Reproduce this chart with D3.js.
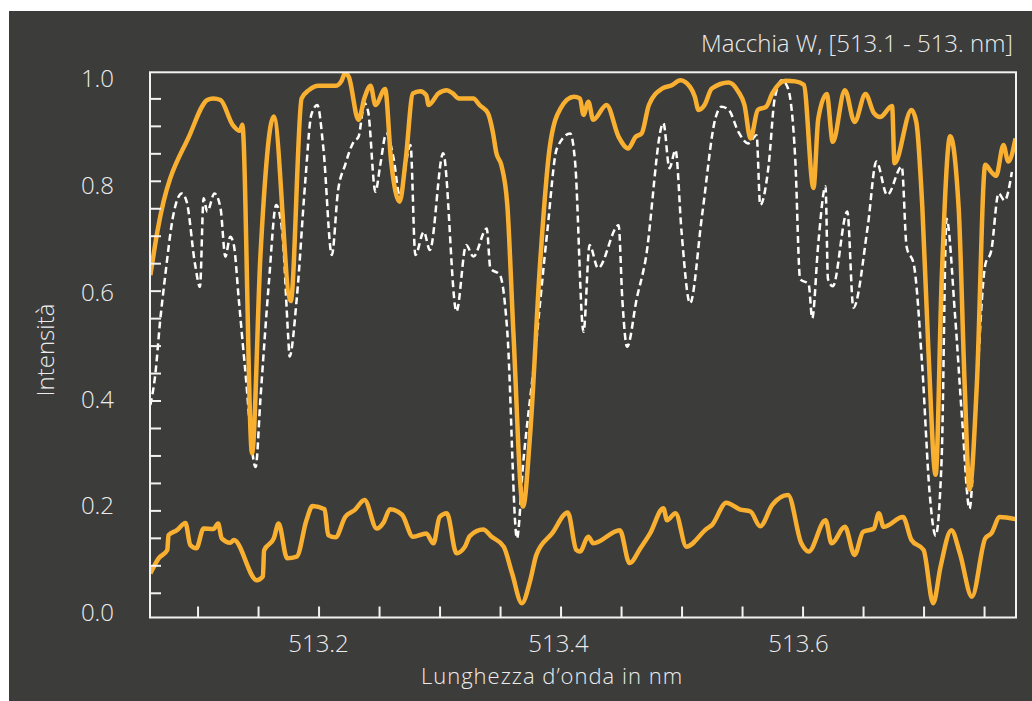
<!DOCTYPE html>
<html>
<head>
<meta charset="utf-8">
<script src="https://cdn.jsdelivr.net/npm/d3@7"></script>
<style>
  html, body { margin: 0; padding: 0; background: #ffffff; }
  svg { display: block; }
  .lbl { font-family: 'Open Sans', Lato, sans-serif; font-weight: 300; fill: #ececec; }
</style>
</head>
<body>
<div id="chart"></div>
<script>
// orange, upper spectrum
const topWave = [513.061, 513.067, 513.094, 513.108, 513.113, 513.119, 513.129, 513.135, 513.137, 513.145,
  513.152, 513.163, 513.177, 513.186, 513.192, 513.200, 513.214, 513.219, 513.222, 513.225,
  513.233, 513.238, 513.243, 513.247, 513.255, 513.260, 513.267, 513.272, 513.278, 513.284,
  513.289, 513.291, 513.299, 513.306, 513.311, 513.316, 513.328, 513.333, 513.340, 513.344,
  513.347, 513.351, 513.356, 513.361, 513.369, 513.375, 513.383, 513.391, 513.400, 513.411,
  513.416, 513.419, 513.423, 513.427, 513.438, 513.448, 513.456, 513.462, 513.467, 513.473,
  513.484, 513.492, 513.499, 513.507, 513.511, 513.514, 513.519, 513.525, 513.539, 513.547,
  513.552, 513.557, 513.563, 513.570, 513.575, 513.586, 513.594, 513.601, 513.609, 513.613,
  513.620, 513.625, 513.635, 513.643, 513.652, 513.659, 513.664, 513.674, 513.676, 513.690,
  513.694, 513.699, 513.704, 513.710, 513.715, 513.722, 513.729, 513.734, 513.738, 513.744,
  513.751, 513.756, 513.760, 513.766, 513.770, 513.776];
const topOrange = [0.628, 0.710, 0.886, 0.947, 0.950, 0.947, 0.902, 0.891, 0.902, 0.304,
  0.665, 0.917, 0.581, 0.950, 0.965, 0.973, 0.973, 0.982, 0.996, 0.989,
  0.911, 0.951, 0.973, 0.938, 0.967, 0.835, 0.762, 0.838, 0.959, 0.963,
  0.956, 0.938, 0.959, 0.965, 0.959, 0.950, 0.950, 0.938, 0.923, 0.889,
  0.850, 0.829, 0.756, 0.525, 0.207, 0.343, 0.647, 0.860, 0.932, 0.953,
  0.950, 0.920, 0.944, 0.911, 0.938, 0.880, 0.859, 0.880, 0.886, 0.938,
  0.968, 0.974, 0.983, 0.971, 0.953, 0.929, 0.938, 0.968, 0.979, 0.962,
  0.938, 0.877, 0.929, 0.935, 0.959, 0.982, 0.981, 0.975, 0.787, 0.913,
  0.958, 0.871, 0.965, 0.907, 0.958, 0.923, 0.916, 0.936, 0.832, 0.929,
  0.907, 0.751, 0.492, 0.265, 0.621, 0.881, 0.751, 0.427, 0.238, 0.427,
  0.829, 0.816, 0.809, 0.865, 0.835, 0.877];

// white dashed spectrum
const dashWave = [513.061, 513.065, 513.069, 513.073, 513.080, 513.087, 513.091, 513.098, 513.102, 513.105,
  513.108, 513.114, 513.119, 513.123, 513.127, 513.130, 513.134, 513.139, 513.148, 513.152,
  513.159, 513.165, 513.170, 513.175, 513.176, 513.182, 513.189, 513.194, 513.199, 513.204,
  513.211, 513.216, 513.222, 513.229, 513.233, 513.238, 513.241, 513.247, 513.251, 513.256,
  513.262, 513.267, 513.276, 513.280, 513.287, 513.292, 513.303, 513.314, 513.322, 513.328,
  513.339, 513.342, 513.350, 513.356, 513.364, 513.369, 513.378, 513.389, 513.397, 513.408,
  513.412, 513.419, 513.424, 513.431, 513.448, 513.451, 513.455, 513.463, 513.470, 513.485,
  513.490, 513.495, 513.500, 513.507, 513.517, 513.528, 513.533, 513.539, 513.547, 513.555,
  513.562, 513.565, 513.572, 513.577, 513.583, 513.588, 513.594, 513.598, 513.605, 513.608,
  513.613, 513.619, 513.621, 513.625, 513.637, 513.642, 513.654, 513.661, 513.670, 513.682,
  513.686, 513.692, 513.699, 513.705, 513.710, 513.715, 513.719, 513.726, 513.732, 513.738,
  513.744, 513.751, 513.756, 513.762, 513.767, 513.773];
const dashWhite = [0.392, 0.446, 0.543, 0.622, 0.738, 0.777, 0.762, 0.647, 0.607, 0.768,
  0.744, 0.777, 0.750, 0.662, 0.698, 0.683, 0.586, 0.465, 0.279, 0.404,
  0.616, 0.756, 0.707, 0.513, 0.480, 0.586, 0.798, 0.920, 0.938, 0.859,
  0.665, 0.780, 0.829, 0.871, 0.880, 0.941, 0.926, 0.780, 0.829, 0.886,
  0.841, 0.774, 0.865, 0.665, 0.707, 0.674, 0.850, 0.562, 0.683, 0.662,
  0.713, 0.641, 0.628, 0.525, 0.149, 0.283, 0.465, 0.707, 0.859, 0.886,
  0.835, 0.525, 0.683, 0.641, 0.719, 0.586, 0.498, 0.586, 0.653, 0.905,
  0.823, 0.856, 0.707, 0.577, 0.738, 0.914, 0.935, 0.929, 0.889, 0.868,
  0.883, 0.756, 0.829, 0.950, 0.983, 0.968, 0.838, 0.621, 0.612, 0.550,
  0.686, 0.790, 0.621, 0.608, 0.744, 0.569, 0.719, 0.835, 0.774, 0.826,
  0.680, 0.647, 0.459, 0.232, 0.154, 0.297, 0.731, 0.556, 0.362, 0.203,
  0.427, 0.647, 0.673, 0.777, 0.764, 0.816];

// orange, lower curve
const lowWave = [513.061, 513.068, 513.075, 513.076, 513.083, 513.090, 513.094, 513.099, 513.105, 513.113,
  513.117, 513.120, 513.127, 513.130, 513.149, 513.154, 513.155, 513.163, 513.167, 513.174,
  513.182, 513.190, 513.195, 513.205, 513.208, 513.214, 513.222, 513.230, 513.238, 513.248,
  513.254, 513.259, 513.269, 513.278, 513.289, 513.295, 513.300, 513.306, 513.314, 513.321,
  513.325, 513.336, 513.343, 513.353, 513.360, 513.368, 513.375, 513.380, 513.393, 513.406,
  513.413, 513.416, 513.423, 513.427, 513.449, 513.457, 513.466, 513.474, 513.485, 513.488,
  513.495, 513.504, 513.521, 513.525, 513.537, 513.548, 513.557, 513.565, 513.575, 513.588,
  513.599, 513.605, 513.619, 513.624, 513.635, 513.643, 513.650, 513.659, 513.663, 513.667,
  513.683, 513.690, 513.700, 513.708, 513.714, 513.723, 513.730, 513.740, 513.751, 513.756,
  513.763, 513.776];
const lowOrange = [0.085, 0.113, 0.128, 0.155, 0.164, 0.177, 0.137, 0.131, 0.167, 0.166,
  0.176, 0.149, 0.141, 0.146, 0.073, 0.080, 0.127, 0.149, 0.176, 0.113,
  0.116, 0.182, 0.208, 0.202, 0.155, 0.151, 0.188, 0.201, 0.219, 0.167,
  0.179, 0.202, 0.192, 0.152, 0.158, 0.140, 0.188, 0.195, 0.122, 0.134,
  0.153, 0.165, 0.152, 0.134, 0.085, 0.031, 0.073, 0.119, 0.158, 0.196,
  0.128, 0.125, 0.152, 0.140, 0.164, 0.104, 0.131, 0.158, 0.204, 0.182,
  0.195, 0.134, 0.167, 0.173, 0.214, 0.202, 0.198, 0.171, 0.210, 0.228,
  0.140, 0.125, 0.182, 0.140, 0.170, 0.119, 0.161, 0.167, 0.195, 0.170,
  0.188, 0.146, 0.128, 0.031, 0.097, 0.164, 0.122, 0.043, 0.149, 0.158,
  0.188, 0.184];

const xMinorTicks = d3.range(0, 14).map(i => +(513.1 + i * 0.05).toFixed(2));
const xTickLabels = [513.2, 513.4, 513.6];
const yMinorTicks = d3.range(1, 20).map(i => +(i * 0.05).toFixed(2));
const yTickLabels = [0.0, 0.2, 0.4, 0.6, 0.8, 1.0];

const titleText = 'Macchia W, [513.1 - 513. nm]';
const xTitle = 'Lunghezza d\u2019onda in nm';
const yTitle = 'Intensit\u00e0';

const W = 1032, H = 701;
const orange = '#f9b031';
const fontSize = '24px';

const svg = d3.select('#chart').append('svg')
  .attr('width', W)
  .attr('height', H);

// dark panel
svg.append('rect')
  .attr('x', 9).attr('y', 11)
  .attr('width', W - 9).attr('height', H - 11)
  .attr('fill', '#3c3c3b');

const plot = { left: 150, right: 1016, top: 72.3, bottom: 617.5 };

const x = d3.scaleLinear().domain([513.0607, 513.7764]).range([plot.left, plot.right]);
const y = d3.scaleLinear().domain([0.005, 0.9975]).range([plot.bottom, plot.top]);
// label positions sit slightly off the tick marks in the original
const xLab = d3.scaleLinear().domain([513.2, 513.6]).range([318, 798]);
const yLab = d3.scaleLinear().domain([0, 1]).range([613, 79]);

// clip lines to the frame
svg.append('clipPath').attr('id', 'clip')
  .append('rect')
  .attr('x', plot.left).attr('y', plot.top)
  .attr('width', plot.right - plot.left).attr('height', plot.bottom - plot.top);

const body = svg.append('g').attr('clip-path', 'url(#clip)');

const line = d3.line()
  .x(d => x(d[0]))
  .y(d => y(d[1]))
  .curve(d3.curveMonotoneX);

const series = [
  { wave: dashWave, vals: dashWhite, stroke: '#ffffff', width: 2.5, dash: '7,4' },
  { wave: lowWave, vals: lowOrange, stroke: orange, width: 4.5, dash: null },
  { wave: topWave, vals: topOrange, stroke: orange, width: 4.5, dash: null }
];

series.forEach(s => {
  body.append('path')
    .datum(d3.zip(s.wave, s.vals))
    .attr('fill', 'none')
    .attr('stroke', s.stroke)
    .attr('stroke-width', s.width)
    .attr('stroke-dasharray', s.dash)
    .attr('stroke-linejoin', 'round')
    .attr('stroke-linecap', 'butt')
    .attr('d', line);
});

// frame
svg.append('rect')
  .attr('x', plot.left).attr('y', plot.top)
  .attr('width', plot.right - plot.left).attr('height', plot.bottom - plot.top)
  .attr('fill', 'none')
  .attr('stroke', '#f2f2f2')
  .attr('stroke-width', 2);

// inward tick marks
const yTicks = svg.append('g')
  .attr('transform', 'translate(' + plot.left + ',0)')
  .call(d3.axisLeft(y).tickValues(yMinorTicks).tickSize(-11).tickFormat(''));
const xTicks = svg.append('g')
  .attr('transform', 'translate(0,' + plot.bottom + ')')
  .call(d3.axisBottom(x).tickValues(xMinorTicks).tickSize(-11).tickFormat(''));
[yTicks, xTicks].forEach(g => {
  g.select('.domain').remove();
  g.selectAll('line').attr('stroke', '#f2f2f2').attr('stroke-width', 2);
});

// tick labels
const yLabels = svg.append('g')
  .attr('transform', 'translate(114,0)')
  .call(d3.axisLeft(yLab).tickValues(yTickLabels).tickSize(0).tickPadding(0).tickFormat(d3.format('.1f')));
const xLabels = svg.append('g')
  .attr('transform', 'translate(0,652)')
  .call(d3.axisBottom(xLab).tickValues(xTickLabels).tickSize(0).tickPadding(0).tickFormat(d3.format('.1f')));
[yLabels, xLabels].forEach(g => {
  g.select('.domain').remove();
  g.selectAll('text')
    .attr('class', 'lbl')
    .attr('fill', '#ececec')
    .style('font-size', fontSize);
});
xLabels.selectAll('text').attr('y', 0).attr('dy', null);

// titles
svg.append('text')
  .attr('class', 'lbl')
  .attr('x', 1013).attr('y', 52)
  .attr('text-anchor', 'end')
  .style('font-size', fontSize)
  .text(titleText);

svg.append('text')
  .attr('class', 'lbl')
  .attr('x', 552).attr('y', 684)
  .attr('text-anchor', 'middle')
  .style('font-size', '22px')
  .style('letter-spacing', '1px')
  .text(xTitle);

svg.append('text')
  .attr('class', 'lbl')
  .attr('transform', 'translate(54,350) rotate(-90)')
  .attr('text-anchor', 'middle')
  .style('font-size', fontSize)
  .text(yTitle);
</script>
</body>
</html>
